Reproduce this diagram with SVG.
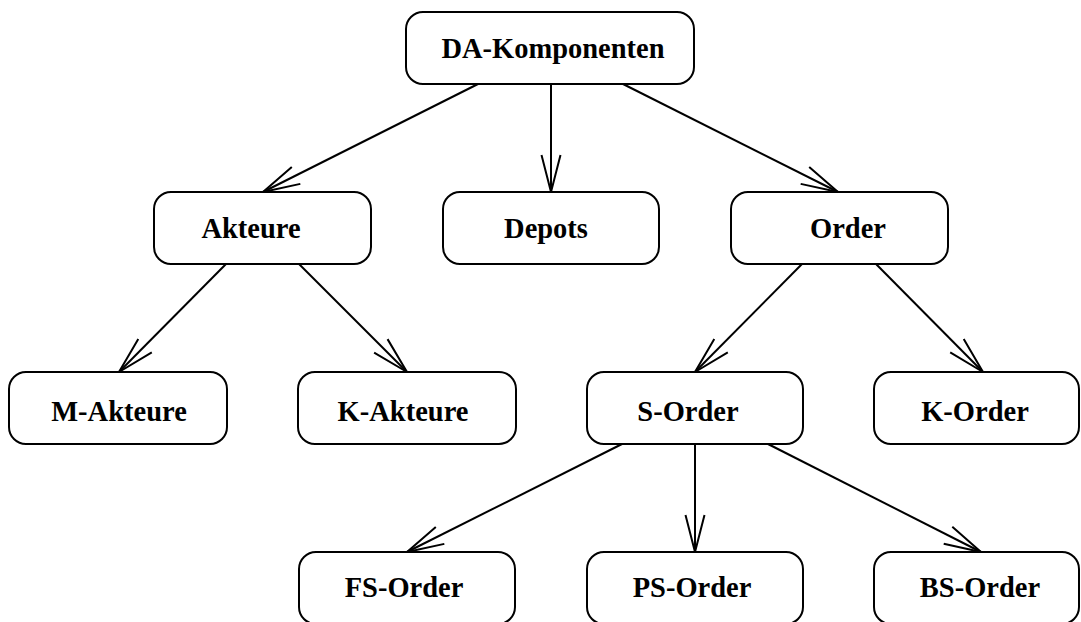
<svg xmlns="http://www.w3.org/2000/svg" width="1081" height="622" viewBox="0 0 1081 622">
  <style>
    .box { fill: #ffffff; stroke: #000000; stroke-width: 2; }
    .lbl { font-family: "Liberation Serif", "Times New Roman", serif; font-weight: bold; font-size: 30px; fill: #000000; text-anchor: middle; }
    .edge { fill: none; stroke: #000000; stroke-width: 2; marker-end: url(#open); }
  </style>
  <defs>
    <marker id="open" markerUnits="userSpaceOnUse" markerWidth="50" markerHeight="30" viewBox="-40 -15 50 30" refX="0" refY="0" orient="auto" overflow="visible">
      <path d="M-37,-9.5 L0,0 L-37,9.5" fill="none" stroke="#000000" stroke-width="2"/>
    </marker>
  </defs>

  <rect width="1081" height="622" fill="#ffffff"/>

  <g id="connectors">
    <line class="edge" x1="478" y1="84" x2="263" y2="192"/>
    <line class="edge" x1="551" y1="84" x2="551" y2="192"/>
    <line class="edge" x1="623" y1="84" x2="838" y2="192"/>
    <line class="edge" x1="226" y1="264" x2="119" y2="372"/>
    <line class="edge" x1="299" y1="264" x2="407" y2="372"/>
    <line class="edge" x1="802" y1="264" x2="695" y2="372"/>
    <line class="edge" x1="876" y1="264" x2="983" y2="372"/>
    <line class="edge" x1="622" y1="444" x2="407" y2="552"/>
    <line class="edge" x1="695" y1="444" x2="695" y2="552"/>
    <line class="edge" x1="768" y1="444" x2="981" y2="552"/>
  </g>

  <!-- labels are set slightly condensed (scale 0.95 horizontally) -->
  <g id="da-komponenten">
    <rect class="box" x="406" y="12" width="288" height="72" rx="17"/>
    <text class="lbl" transform="translate(553,58) scale(0.95,1)">DA-Komponenten</text>
  </g>
  <g id="akteure">
    <rect class="box" x="154" y="192" width="217" height="72" rx="17"/>
    <text class="lbl" transform="translate(251,238) scale(0.95,1)">Akteure</text>
  </g>
  <g id="depots">
    <rect class="box" x="443" y="192" width="216" height="72" rx="17"/>
    <text class="lbl" transform="translate(546,238) scale(0.95,1)">Depots</text>
  </g>
  <g id="order">
    <rect class="box" x="731" y="192" width="217" height="72" rx="17"/>
    <text class="lbl" transform="translate(848,238) scale(0.95,1)">Order</text>
  </g>
  <g id="m-akteure">
    <rect class="box" x="9" y="372" width="218" height="72" rx="17"/>
    <text class="lbl" transform="translate(119,421) scale(0.95,1)">M-Akteure</text>
  </g>
  <g id="k-akteure">
    <rect class="box" x="298" y="372" width="218" height="72" rx="17"/>
    <text class="lbl" transform="translate(403,421) scale(0.95,1)">K-Akteure</text>
  </g>
  <g id="s-order">
    <rect class="box" x="587" y="372" width="216" height="72" rx="17"/>
    <text class="lbl" transform="translate(688,421) scale(0.95,1)">S-Order</text>
  </g>
  <g id="k-order">
    <rect class="box" x="874" y="372" width="205" height="72" rx="17"/>
    <text class="lbl" transform="translate(975,421) scale(0.95,1)">K-Order</text>
  </g>
  <g id="fs-order">
    <rect class="box" x="299" y="552" width="216" height="72" rx="17"/>
    <text class="lbl" transform="translate(404,597) scale(0.95,1)">FS-Order</text>
  </g>
  <g id="ps-order">
    <rect class="box" x="587" y="552" width="216" height="72" rx="17"/>
    <text class="lbl" transform="translate(692,597) scale(0.95,1)">PS-Order</text>
  </g>
  <g id="bs-order">
    <rect class="box" x="874" y="552" width="205" height="72" rx="17"/>
    <text class="lbl" transform="translate(980,597) scale(0.95,1)">BS-Order</text>
  </g>
</svg>
